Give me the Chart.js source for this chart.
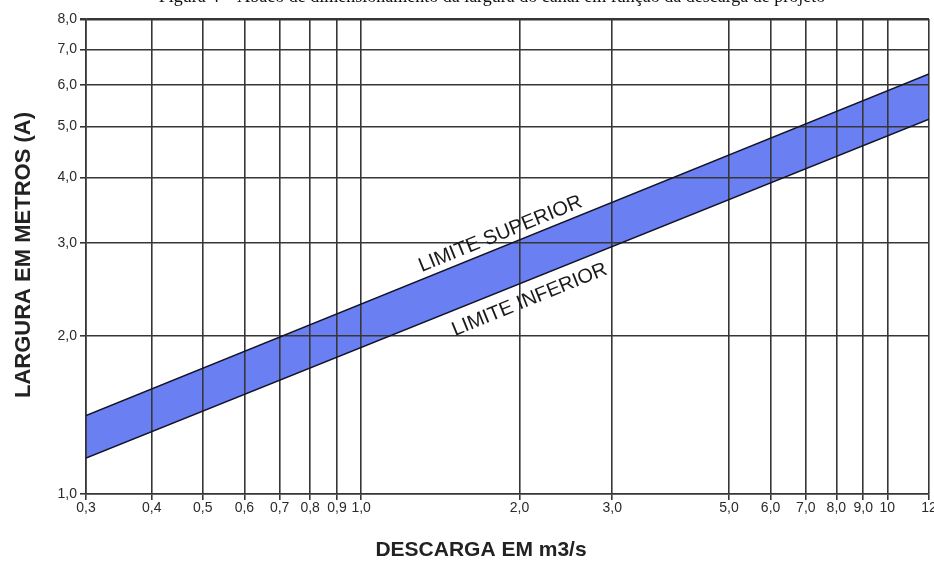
<!DOCTYPE html>
<html>
<head>
<meta charset="utf-8">
<script src="https://cdn.jsdelivr.net/npm/chart.js@4.4.0/dist/chart.umd.min.js"></script>
<style>
  html, body { margin: 0; padding: 0; background: #fff; }
  canvas { display: block; }
</style>
</head>
<body>
<canvas id="abaco" width="934" height="561"></canvas>
<script>
const descarga = [0.3, 12]
const limiteSuperior = [1.41, 6.29]
const limiteInferior = [1.17, 5.16]

const xTicks = [0.3, 0.4, 0.5, 0.6, 0.7, 0.8, 0.9, 1, 2, 3, 5, 6, 7, 8, 9, 10, 12]
const xTickLabels = ['0,3', '0,4', '0,5', '0,6', '0,7', '0,8', '0,9', '1,0', '2,0', '3,0',
    '5,0', '6,0', '7,0', '8,0', '9,0', '10', '12']
const yTicks = [1, 2, 3, 4, 5, 6, 7, 8]
const yTickLabels = ['1,0', '2,0', '3,0', '4,0', '5,0', '6,0', '7,0', '8,0']

const legenda = 'Figura 4 – Ábaco de dimensionamento da largura do canal em função da descarga de projeto'
const tituloX = 'DESCARGA EM m3/s'
const tituloY = 'LARGURA EM METROS (A)'

const toPoints = (ys) => descarga.map((x, i) => ({ x: x, y: ys[i] }))

const gridColor = '#363636'
const tickFont = { family: 'Liberation Sans, Arial, sans-serif', size: 14 }

//  textos soltos (legenda cortada, títulos dos eixos, rótulos das linhas)
const textos = {
    id: 'textos',
    afterDraw(chart) {
        const c = chart.ctx
        const xs = chart.scales.x
        const ys = chart.scales.y
        c.save()
        c.fillStyle = '#111'
        c.font = '18px "Liberation Serif", "Times New Roman", serif'
        c.textAlign = 'center'
        c.textBaseline = 'alphabetic'
        c.fillText(legenda, 492, 2)

        c.fillStyle = '#222'
        c.font = 'bold 21px "Liberation Sans", Arial, sans-serif'
        c.textBaseline = 'middle'
        c.fillText(tituloX, 481, 550)
        c.save()
        c.translate(24, 255)
        c.rotate(-Math.PI / 2)
        c.font = 'bold 22px "Liberation Sans", Arial, sans-serif'
        c.fillText(tituloY, 0, 0)
        c.restore()

        // inclinação das linhas no papel
        const x0 = xs.getPixelForValue(descarga[0]), x1 = xs.getPixelForValue(descarga[1])
        const y0 = ys.getPixelForValue(limiteSuperior[0]), y1 = ys.getPixelForValue(limiteSuperior[1])
        const ang = Math.atan2(y1 - y0, x1 - x0)
        c.font = '20px "Liberation Sans", Arial, sans-serif'
        c.fillStyle = '#1a1a1a'
        const rotulos = [['LIMITE SUPERIOR', 1.84, 3.12], ['LIMITE INFERIOR', 2.09, 2.34]]
        rotulos.forEach(r => {
            c.save()
            c.translate(xs.getPixelForValue(r[1]), ys.getPixelForValue(r[2]))
            c.rotate(ang)
            c.fillText(r[0], 0, 0)
            c.restore()
        })
        c.restore()
    }
}

const config = {
    type: 'line',
    data: {
        datasets: [{
            label: 'LIMITE SUPERIOR',
            data: toPoints(limiteSuperior),
            borderColor: '#141428',
            borderWidth: 1.5,
            pointRadius: 0,
            fill: '+1',
            backgroundColor: '#6a80f2'
        }, {
            label: 'LIMITE INFERIOR',
            data: toPoints(limiteInferior),
            borderColor: '#141428',
            borderWidth: 1.5,
            pointRadius: 0,
            fill: false
        }]
    },
    options: {
        responsive: false,
        animation: false,
        layout: { padding: { top: 19, right: 5, left: 0, bottom: 0 } },
        plugins: {
            legend: { display: false },
            tooltip: { enabled: false },
            filler: { drawTime: 'beforeDraw' }
        },
        scales: {
            x: {
                type: 'logarithmic',
                min: 0.3,
                max: 12,
                afterBuildTicks: (s) => { s.ticks = xTicks.map(v => ({ value: v })) },
                afterFit: (s) => { s.height = 67; s.paddingLeft = 0; s.paddingRight = 0 },
                ticks: {
                    autoSkip: false,
                    maxRotation: 0,
                    minRotation: 0,
                    padding: 0,
                    color: '#2a2a2a',
                    font: tickFont,
                    callback: (v, i) => xTickLabels[i]
                },
                grid: { color: gridColor, lineWidth: 1.6, tickLength: 6 },
                border: { color: gridColor, width: 1.6 }
            },
            y: {
                type: 'logarithmic',
                min: 1,
                max: 8,
                afterBuildTicks: (s) => { s.ticks = yTicks.map(v => ({ value: v })) },
                afterFit: (s) => { s.width = 86; s.paddingTop = 0; s.paddingBottom = 0 },
                ticks: {
                    autoSkip: false,
                    padding: 3,
                    color: '#2a2a2a',
                    font: tickFont,
                    callback: (v, i) => yTickLabels[i]
                },
                grid: {
                    color: gridColor,
                    lineWidth: (ctx) => ctx.tick && ctx.tick.value === 8 ? 2.5 : 1.6,
                    tickLength: 6
                },
                border: { color: gridColor, width: 1.6 }
            }
        }
    },
    plugins: [textos]
}

const myChart = new Chart(document.querySelector('#abaco').getContext('2d'), config)
</script>
</body>
</html>
